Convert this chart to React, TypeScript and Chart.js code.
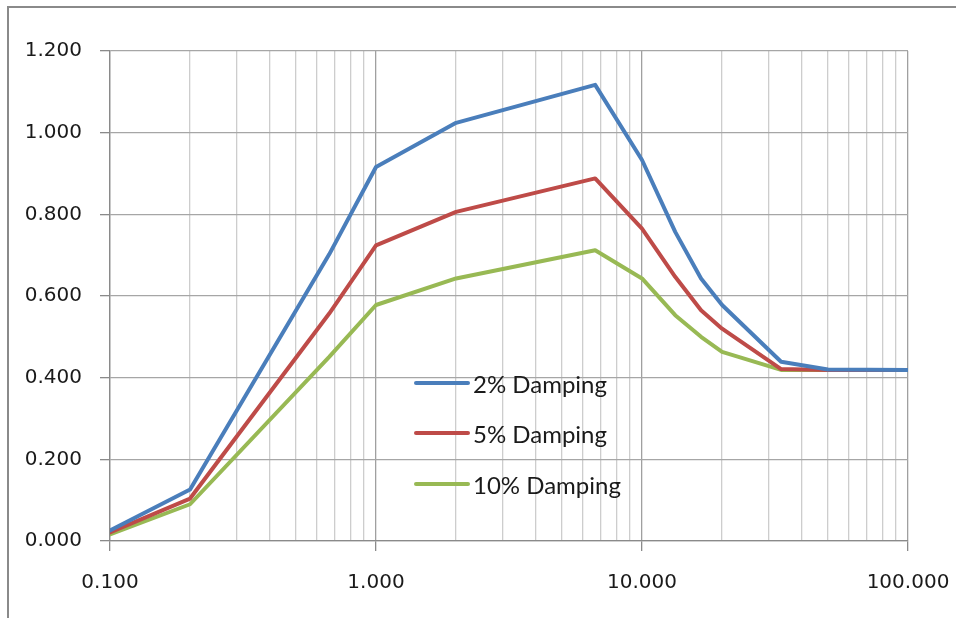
import React, { useEffect, useRef } from "react";
import { Chart, registerables } from "chart.js";

Chart.register(...registerables);

const periods = [0.1, 0.2, 0.667, 1, 2, 6.667, 10, 13.33, 16.67, 20, 33.33, 50, 100];
const damping2 = [0.026, 0.126, 0.702, 0.916, 1.024, 1.117, 0.933, 0.757, 0.643, 0.578, 0.439, 0.42, 0.419];
const damping5 = [0.021, 0.104, 0.557, 0.724, 0.806, 0.888, 0.765, 0.647, 0.565, 0.52, 0.421, 0.419, 0.419];
const damping10 = [0.016, 0.09, 0.451, 0.578, 0.643, 0.712, 0.643, 0.553, 0.5, 0.463, 0.419, 0.419, 0.419];
const seriesLabels = ["2% Damping", "5% Damping", "10% Damping"];
const seriesColors = ["#4A7EBB", "#BE4B48", "#98B954"];
const xTickValues = [
  0.1, 0.2, 0.3, 0.4, 0.5, 0.6, 0.7, 0.8, 0.9,
  1, 2, 3, 4, 5, 6, 7, 8, 9,
  10, 20, 30, 40, 50, 60, 70, 80, 90, 100,
];
const yMin = 0;
const yMax = 1.2;
const yStep = 0.2;

const isPow10 = (v: number) => {
  const l = Math.log10(v);
  return Math.abs(l - Math.round(l)) < 1e-9;
};

export default function App() {
  const ref = useRef<HTMLCanvasElement | null>(null);

  useEffect(() => {
    if (!ref.current) return;
    const all = [damping2, damping5, damping10];
    const chart = new Chart(ref.current, {
      type: "scatter",
      data: {
        datasets: all.map((vals, i) => ({
          label: seriesLabels[i],
          data: periods.map((p, j) => ({ x: p, y: vals[j] })),
          showLine: true,
          borderColor: seriesColors[i],
          backgroundColor: seriesColors[i],
          borderWidth: 4,
          pointRadius: 0,
          borderJoinStyle: "round" as const,
          borderCapStyle: "round" as const,
          tension: 0,
        })),
      },
      options: {
        animation: false,
        responsive: false,
        devicePixelRatio: 1,
        layout: { padding: { top: 51, right: 48, left: 0, bottom: 0 } },
        plugins: { legend: { display: false }, tooltip: { enabled: false } },
        scales: {
          x: {
            type: "logarithmic",
            min: 0.1,
            max: 100,
            afterBuildTicks: (scale: any) => {
              scale.ticks = xTickValues.map((v) => ({ value: v, major: isPow10(v) }));
            },
            afterFit: (scale: any) => {
              scale.height = 77;
              scale.paddingLeft = 0;
              scale.paddingRight = 0;
            },
            ticks: {
              autoSkip: false,
              maxRotation: 0,
              minRotation: 0,
              padding: 20,
              color: "#1a1a1a",
              font: { family: "DejaVu Sans", size: 20 },
              callback: (value: any) => (isPow10(Number(value)) ? Number(value).toFixed(3) : ""),
            },
            grid: {
              color: (ctx: any) => (ctx.tick && isPow10(ctx.tick.value) ? "#a0a0a0" : "#cdcdcd"),
              tickColor: (ctx: any) => (ctx.tick && isPow10(ctx.tick.value) ? "#8a8a8a" : "rgba(0,0,0,0)"),
              tickLength: 10,
              lineWidth: 1.3,
            },
            border: { color: "#8a8a8a", width: 1.3 },
          },
          y: {
            min: yMin,
            max: yMax,
            afterFit: (scale: any) => {
              scale.width = 110;
              scale.paddingTop = 0;
              scale.paddingBottom = 0;
            },
            ticks: {
              stepSize: yStep,
              padding: 18,
              color: "#1a1a1a",
              font: { family: "DejaVu Sans", size: 20 },
              callback: (value: any) => Number(value).toFixed(3),
            },
            grid: {
              color: "#a6a6a6",
              tickColor: "#8a8a8a",
              tickLength: 10,
              lineWidth: 1.3,
            },
            border: { color: "#8a8a8a", width: 1.3 },
          },
        },
      },
    });
    return () => chart.destroy();
  }, []);

  const legendTop = [383, 433, 484];

  return (
    <div
      style={{
        position: "fixed",
        left: 0,
        top: 0,
        width: 956,
        height: 618,
        overflow: "hidden",
        background: "#fff",
      }}
    >
      <canvas ref={ref} width={956} height={618} style={{ position: "absolute", left: 0, top: 0, width: 956, height: 618 }} />
      <div
        style={{
          position: "absolute",
          left: 7,
          top: 6,
          width: 1100,
          height: 800,
          border: "2px solid #8a8a8a",
          boxSizing: "border-box",
          pointerEvents: "none",
        }}
      />
      {seriesLabels.map((lab, i) => (
        <div
          key={lab}
          style={{
            position: "absolute",
            left: 414,
            top: legendTop[i] - 15,
            height: 30,
            display: "flex",
            alignItems: "center",
          }}
        >
          <div
            style={{
              width: 56,
              height: 4,
              borderRadius: 2,
              background: seriesColors[i],
            }}
          />
          <span
            style={{
              marginLeft: 3,
              fontFamily: "Lato, 'DejaVu Sans', sans-serif",
              fontSize: 24,
              color: "#1a1a1a",
              whiteSpace: "nowrap",
            }}
          >
            {lab}
          </span>
        </div>
      ))}
    </div>
  );
}
